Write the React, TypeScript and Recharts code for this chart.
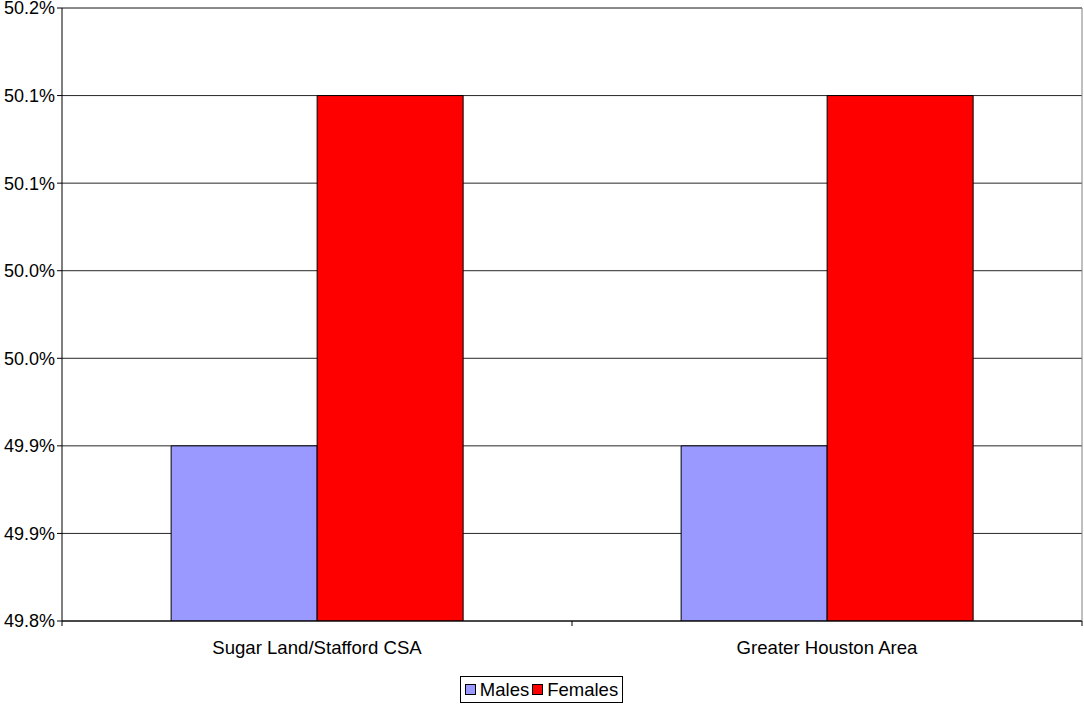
import React from "react";
import {
  BarChart,
  Bar,
  XAxis,
  YAxis,
  CartesianGrid,
  Legend,
  ReferenceLine,
} from "recharts";

const categories = ["Sugar Land/Stafford CSA", "Greater Houston Area"];
const malesValues = [49.9, 49.9];
const femalesValues = [50.1, 50.1];
const yTicks = [49.8, 49.85, 49.9, 49.95, 50.0, 50.05, 50.1, 50.15];
const yTickLabels = ["49.8%", "49.9%", "49.9%", "50.0%", "50.0%", "50.1%", "50.1%", "50.2%"];
const seriesNames = ["Males", "Females"];
const seriesColors = ["#9999FF", "#FF0000"];

const data = categories.map((name, i) => ({
  name,
  males: malesValues[i],
  females: femalesValues[i],
}));

const font = "Arial, 'Liberation Sans', sans-serif";
const X_TICK_SIZE = 6;
const X_TICK_MARGIN = 14;

// small boxed legend like the Excel one
const LegendBox = () => (
  <div style={{ display: "flex", justifyContent: "center", height: 28 }}>
    <div
      style={{
        border: "1px solid #000",
        padding: "0 4px",
        height: 27,
        boxSizing: "border-box",
        display: "flex",
        alignItems: "center",
        fontFamily: font,
        fontSize: 18.5,
        color: "#000",
      }}
    >
      {seriesNames.map((n, i) => (
        <span key={n} style={{ display: "flex", alignItems: "center", marginRight: i === 0 ? 3 : 0 }}>
          <span
            style={{
              width: 9,
              height: 9,
              background: seriesColors[i],
              border: "1px solid #000",
              display: "inline-block",
              marginRight: 4,
            }}
          />
          {n}
        </span>
      ))}
    </div>
  </div>
);

// category label plus Excel-style tick marks between categories
const CategoryTick = (props: any) => {
  const { x, y, payload, index, visibleTicksCount } = props;
  const half = payload?.offset ?? 0;
  const axisY = y - X_TICK_SIZE - X_TICK_MARGIN;
  return (
    <g>
      {half > 0 && (
        <line x1={x - half} x2={x - half} y1={axisY} y2={axisY + 5} stroke="#000" />
      )}
      {half > 0 && index === visibleTicksCount - 1 && (
        <line x1={x + half} x2={x + half} y1={axisY} y2={axisY + 5} stroke="#000" />
      )}
      <text x={x} y={y} dy="0.71em" textAnchor="middle" fill="#000" fontSize={18.6} fontFamily={font}>
        {payload.value}
      </text>
    </g>
  );
};

export default function App() {
  return (
    <div style={{ position: "absolute", left: 0, top: 0, background: "#fff" }}>
      <BarChart
        width={1084}
        height={706}
        data={data}
        margin={{ top: 8, right: 1, left: 0, bottom: 2 }}
        barCategoryGap="21.4%"
        barGap={0}
      >
        <CartesianGrid vertical={false} stroke="#000" strokeOpacity={0.85} />
        <XAxis
          dataKey="name"
          tickLine={false}
          tickSize={X_TICK_SIZE}
          axisLine={{ stroke: "#000" }}
          tickMargin={X_TICK_MARGIN}
          height={55}
          tick={<CategoryTick />}
        />
        <YAxis
          domain={[49.8, 50.15]}
          ticks={yTicks}
          tickFormatter={(v: number) => yTickLabels[yTicks.indexOf(v)] ?? ""}
          width={62}
          tickSize={5}
          tickMargin={2}
          interval={0}
          allowDataOverflow
          fontSize={18}
          axisLine={{ stroke: "#000" }}
          tickLine={{ stroke: "#000" }}
          tick={{ fill: "#000", fontSize: 18, fontFamily: font }}
        />
        <YAxis
          yAxisId="right"
          orientation="right"
          width={1}
          tick={false}
          tickLine={false}
          axisLine={{ stroke: "#808080" }}
        />
        <ReferenceLine y={50.15} stroke="#808080" />
        <Legend verticalAlign="bottom" content={<LegendBox />} />
        <Bar dataKey="males" name="Males" fill={seriesColors[0]} stroke="#000" isAnimationActive={false} />
        <Bar dataKey="females" name="Females" fill={seriesColors[1]} stroke="#000" isAnimationActive={false} />
      </BarChart>
    </div>
  );
}
